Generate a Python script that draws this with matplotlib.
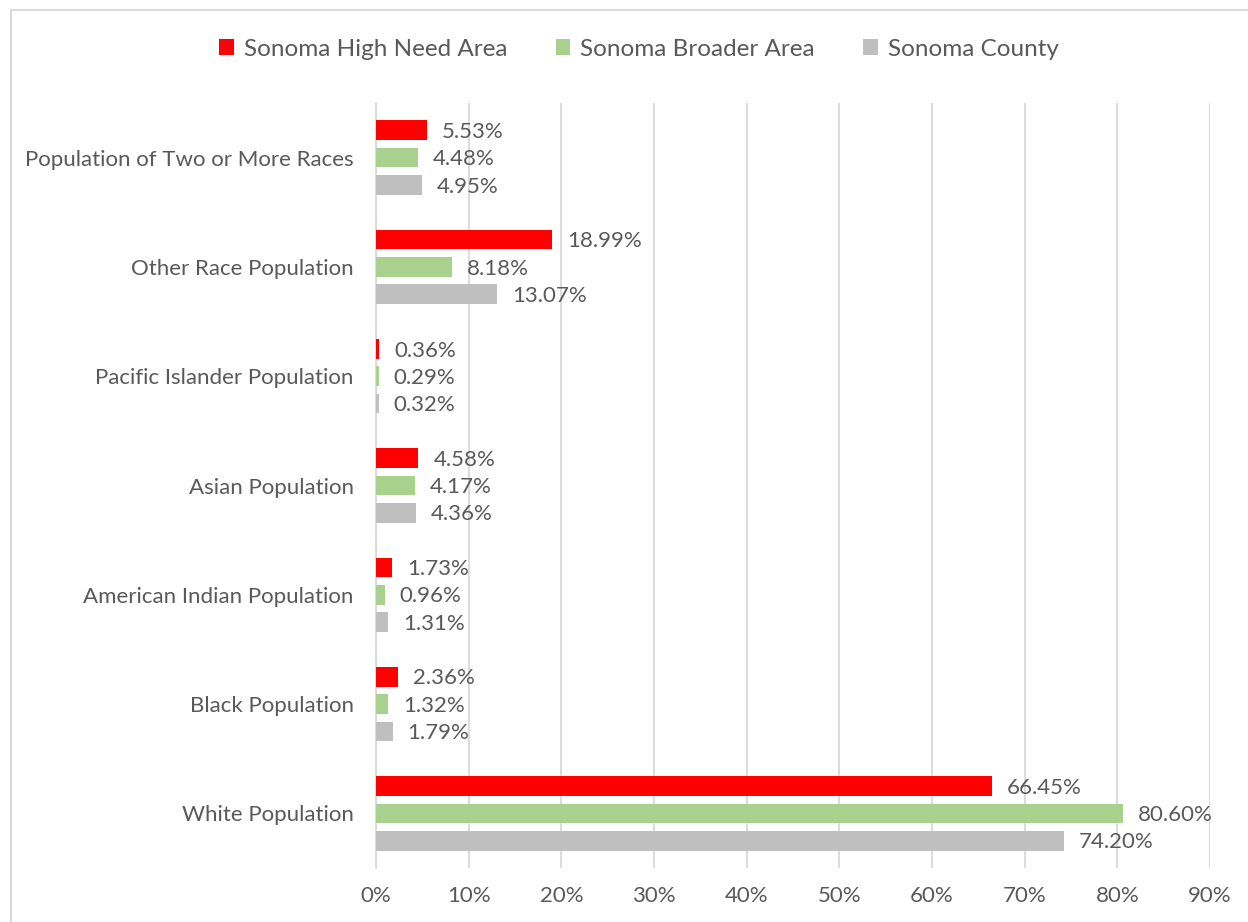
import matplotlib.pyplot as plt
import matplotlib.patches as mpatches
import numpy as np

plt.rcParams['font.family'] = ['Lato', 'DejaVu Sans']

categories = ['White Population', 'Black Population', 'American Indian Population',
              'Asian Population', 'Pacific Islander Population', 'Other Race Population',
              'Population of Two or More Races']
series_names = ['Sonoma High Need Area', 'Sonoma Broader Area', 'Sonoma County']
high_need = [66.45, 2.36, 1.73, 4.58, 0.36, 18.99, 5.53]
broader = [80.60, 1.32, 0.96, 4.17, 0.29, 8.18, 4.48]
county = [74.20, 1.79, 1.31, 4.36, 0.32, 13.07, 4.95]
colors = ['#ff0000', '#a9d18e', '#bfbfbf']
xticks = [0, 10, 20, 30, 40, 50, 60, 70, 80, 90]

text_color = '#595959'
grid_color = '#d9d9d9'

fig = plt.figure(figsize=(12.48, 9.22), dpi=100)
ax = fig.add_axes([376 / 1248, 1 - 868 / 922, (1210 - 376) / 1248, (868 - 103) / 922])

# outer chart border (cut off on the right and bottom)
fig.patches.append(mpatches.Rectangle((11 / 1248, -0.05), 1.2, 1 - 10 / 922 + 0.05,
                                      transform=fig.transFigure, fill=False,
                                      edgecolor=grid_color, linewidth=1.5))

y = np.arange(len(categories))
offset = 0.25
height = 0.18
for vals, name, col, off in zip([high_need, broader, county], series_names, colors,
                                [offset, 0, -offset]):
    ax.barh(y + off, vals, height=height, color=col, label=name, zorder=3)
    for yi, v in zip(y, vals):
        ax.text(v + 1.6, yi + off - 0.015, f'{v:.2f}%', va='center', ha='left',
                fontsize=16, color=text_color)

ax.set_xlim(0, 90)
ax.set_ylim(-0.5, len(categories) - 0.5)
ax.set_xticks(xticks)
ax.set_xticklabels([f'{t}%' for t in xticks])
ax.set_yticks(y)
ax.set_yticklabels(categories)
ax.tick_params(axis='both', length=0, labelsize=16, labelcolor=text_color)
ax.tick_params(axis='x', pad=13)
ax.tick_params(axis='y', pad=16)
ax.grid(axis='x', color=grid_color, linewidth=1.3, zorder=0)
for s in ['top', 'right', 'bottom']:
    ax.spines[s].set_visible(False)
ax.spines['left'].set_color(grid_color)
ax.spines['left'].set_linewidth(1.3)

fig.legend(loc='center', bbox_to_anchor=(0.512, 1 - 49 / 922), ncol=3, frameon=False,
           fontsize=17.5, labelcolor=text_color, handlelength=0.6, handleheight=0.6,
           columnspacing=2.0, handletextpad=0.4)

fig.savefig('out.png', dpi=100)
